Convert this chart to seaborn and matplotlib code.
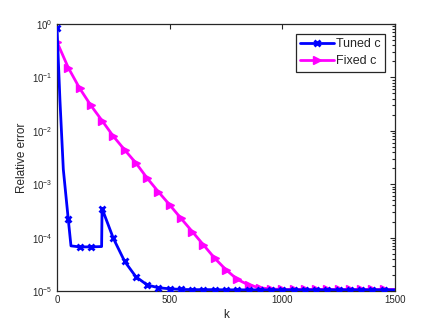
import matplotlib
matplotlib.use("Agg")
import matplotlib.pyplot as plt
import matplotlib.ticker as mticker
import seaborn as sns
import pandas as pd

# ---- data ----
tuned_k = [0, 13, 28, 50, 62, 100, 150, 198, 200, 250, 300, 350, 400, 450, 500,
           550, 600, 650, 700, 750, 800, 850, 900, 950, 1000, 1050, 1100, 1150,
           1200, 1250, 1300, 1350, 1400, 1450, 1500]
tuned_err = [0.85, 0.038, 1.9e-3, 2.2e-4, 7.0e-5, 6.7e-5, 6.7e-5, 6.8e-5, 3.5e-4,
             9.7e-5, 3.6e-5, 1.85e-5, 1.3e-5, 1.15e-5, 1.1e-5,
             1.07e-5, 1.06e-5, 1.06e-5, 1.06e-5, 1.05e-5, 1.05e-5, 1.05e-5, 1.05e-5,
             1.05e-5, 1.05e-5, 1.05e-5, 1.05e-5, 1.05e-5, 1.05e-5, 1.05e-5, 1.05e-5,
             1.05e-5, 1.05e-5, 1.05e-5, 1.05e-5]
fixed_k = [0, 50, 100, 150, 200, 250, 300, 350, 400, 450, 500, 550, 600, 650, 700,
           750, 800, 850, 900, 950, 1000, 1050, 1100, 1150, 1200, 1250, 1300, 1350,
           1400, 1450, 1500]
fixed_err = [0.46, 0.152, 0.063, 0.030, 0.0155, 7.9e-3, 4.4e-3, 2.5e-3, 1.3e-3,
             7.2e-4, 4.1e-4, 2.3e-4, 1.3e-4, 7.3e-5, 4.1e-5, 2.5e-5, 1.65e-5,
             1.3e-5, 1.15e-5, 1.09e-5, 1.07e-5, 1.07e-5, 1.07e-5, 1.07e-5, 1.07e-5,
             1.07e-5, 1.07e-5, 1.07e-5, 1.07e-5, 1.07e-5, 1.07e-5]
series_names = ["Tuned c", "Fixed c"]
x_ticks = [0, 500, 1000, 1500]

sns.set_style("white")
plt.rcParams["font.family"] = ["Liberation Sans", "DejaVu Sans"]
plt.rcParams["mathtext.fontset"] = "custom"
plt.rcParams["mathtext.rm"] = "Liberation Sans"
plt.rcParams["mathtext.it"] = "Liberation Sans:italic"
plt.rcParams["mathtext.bf"] = "Liberation Sans:bold"

dark = "#262626"
blue = "#0000ff"
pink = "#ff00ff"
fig = plt.figure(figsize=(4.36, 3.27), dpi=100)
ax = fig.add_axes([57 / 436, 1 - 291 / 327, (395 - 57) / 436, (291 - 24) / 327])

df_t = pd.DataFrame({"k": tuned_k, "err": tuned_err})
df_f = pd.DataFrame({"k": fixed_k, "err": fixed_err})
mk_t = [i for i, k in enumerate(tuned_k) if k % 50 == 0 and k < 1500]
mk_f = [i for i, k in enumerate(fixed_k) if k % 50 == 0 and k < 1500]

sns.lineplot(data=df_t, x="k", y="err", ax=ax, color=blue, lw=2.0,
             sort=False, estimator=None, label=series_names[0], zorder=3)
ln_t = ax.lines[-1]
sns.lineplot(data=df_f, x="k", y="err", ax=ax, color=pink, lw=2.0,
             sort=False, estimator=None, label=series_names[1], zorder=2)
ln_f = ax.lines[-1]

ln_t.set_linestyle("-")
ln_t.set_marker("x")
ln_t.set_markersize(5)
ln_t.set_markeredgewidth(2.0)
ln_t.set_markeredgecolor(blue)
ln_t.set_markevery(mk_t)

ln_f.set_linestyle("-")
ln_f.set_marker(">")
ln_f.set_markersize(5.5)
ln_f.set_markeredgewidth(1.0)
ln_f.set_markeredgecolor(pink)
ln_f.set_markerfacecolor(pink)
ln_f.set_markevery(mk_f)

ax.set_yscale("log")
ax.set_xlim(0, 1500)
ax.set_ylim(1e-5, 1)
ax.set_xticks(x_ticks)
ax.set_xticklabels([str(t) for t in x_ticks])
ax.yaxis.set_major_locator(mticker.LogLocator(base=10, numticks=10))
ax.yaxis.set_minor_locator(mticker.LogLocator(base=10, subs=range(2, 10), numticks=10))
ax.yaxis.set_major_formatter(mticker.LogFormatterMathtext())
ax.yaxis.set_minor_formatter(mticker.NullFormatter())

ax.tick_params(axis="both", which="both", direction="in", top=True, right=True,
               colors=dark, labelsize=7, width=0.8)
ax.tick_params(axis="both", which="major", length=3.5, pad=3)
ax.tick_params(axis="y", which="minor", length=2)
for s in ax.spines.values():
    s.set_visible(True)
    s.set_color(dark)
    s.set_linewidth(0.9)

ax.set_xlabel("k", fontsize=8.5, color=dark, labelpad=3)
ax.set_ylabel("Relative error", fontsize=8.5, color=dark, labelpad=3)

leg = ax.legend(handles=[ln_t, ln_f], labels=series_names, loc="upper right",
                fontsize=9, frameon=True, fancybox=False,
                edgecolor=dark, handlelength=2.7, handletextpad=0.15,
                borderpad=0.35, labelspacing=0.4, borderaxespad=0.8,
                framealpha=1, numpoints=1)
leg.get_frame().set_linewidth(0.9)
for t in leg.get_texts():
    t.set_color(dark)

fig.savefig("out.png", dpi=100)
